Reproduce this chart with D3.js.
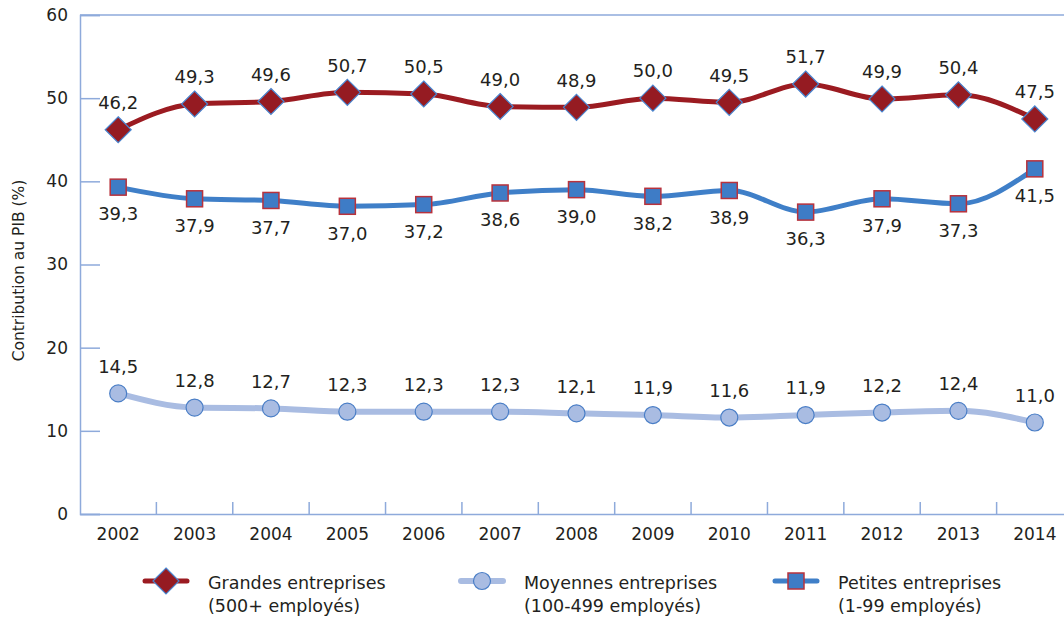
<!DOCTYPE html>
<html>
<head>
<meta charset="utf-8">
<script src="https://cdn.jsdelivr.net/npm/d3@7"></script>
<style>
  body { margin: 0; background: #fff; }
  text { font-family: "DejaVu Sans", sans-serif; fill: #231f20; }
</style>
</head>
<body>
<div id="chart"></div>
<script>
// contribution au PIB par taille d'entreprise, 2002-2014
let years = ["2002", "2003", "2004", "2005", "2006", "2007", "2008", "2009", "2010", "2011", "2012", "2013", "2014"];
let grandes = [46.2, 49.3, 49.6, 50.7, 50.5, 49.0, 48.9, 50.0, 49.5, 51.7, 49.9, 50.4, 47.5];
let moyennes = [14.5, 12.8, 12.7, 12.3, 12.3, 12.3, 12.1, 11.9, 11.6, 11.9, 12.2, 12.4, 11.0];
let petites = [39.3, 37.9, 37.7, 37.0, 37.2, 38.6, 39.0, 38.2, 38.9, 36.3, 37.9, 37.3, 41.5];
let yTicks = [0, 10, 20, 30, 40, 50, 60];

let width = 1064, height = 619;
let plotLeft = 80, plotRight = 1073, plotTop = 15, plotBottom = 514;
let axisColor = "#8eaadb";

let series = [
    { name: "Grandes entreprises", sub: "(500+ employés)", values: grandes, line: "#9b1b21", lw: 5,
      shape: "diamond", fill: "#951b22", stroke: "#4a86d0", labelDy: -27, lx: 145 },
    { name: "Moyennes entreprises", sub: "(100-499 employés)", values: moyennes, line: "#a9bce2", lw: 6,
      shape: "circle", fill: "#a9bce2", stroke: "#4a7ec6", labelDy: -27, lx: 461 },
    { name: "Petites entreprises", sub: "(1-99 employés)", values: petites, line: "#3f7fc8", lw: 5,
      shape: "square", fill: "#3e7cc6", stroke: "#b8323c", labelDy: 27, lx: 775 }
];

let svg = d3.select("#chart").append("svg")
    .attr("width", width)
    .attr("height", height);

let x = d3.scaleBand().domain(years).range([plotLeft, plotRight]);
let y = d3.scaleLinear().domain([0, 60]).range([plotBottom, plotTop]);
let cx = (d) => x(d) + x.bandwidth() / 2;

// top border
svg.append("line")
    .attr("x1", plotLeft).attr("x2", plotRight)
    .attr("y1", y(60)).attr("y2", y(60))
    .attr("stroke", axisColor).attr("stroke-width", 1.5);

// y axis, ticks pointing into the plot
let yAxis = svg.append("g")
    .attr("transform", `translate(${plotLeft},0)`)
    .call(d3.axisLeft(y).tickValues(yTicks).tickSize(-20).tickPadding(12).tickFormat(d3.format("d")));
yAxis.select(".domain").attr("stroke", axisColor).attr("stroke-width", 1.5);
yAxis.selectAll(".tick line").attr("stroke", axisColor).attr("stroke-width", 1.5);
yAxis.selectAll("text").style("font-size", "17px").attr("fill", "#231f20");

// x axis, ticks on band boundaries pointing up
let xAxis = svg.append("g")
    .attr("transform", `translate(0,${plotBottom})`)
    .call(d3.axisBottom(x).tickSize(0).tickPadding(14));
xAxis.select(".domain").attr("stroke", axisColor).attr("stroke-width", 1.5);
xAxis.selectAll("text").style("font-size", "17px").attr("fill", "#231f20");
svg.append("g").selectAll("line")
    .data(years.slice(1))
    .enter()
    .append("line")
    .attr("x1", (d) => x(d)).attr("x2", (d) => x(d))
    .attr("y1", plotBottom).attr("y2", plotBottom - 12)
    .attr("stroke", axisColor).attr("stroke-width", 1.5);

// axis title
svg.append("text")
    .attr("transform", `translate(24,${(plotTop + plotBottom) / 2 + 6}) rotate(-90)`)
    .attr("text-anchor", "middle")
    .style("font-size", "15.5px")
    .text("Contribution au PIB (%)");

function marker(g, s, px, py) {
    if (s.shape == "diamond") {
        g.append("path")
            .attr("d", `M${px},${py - 13}L${px + 13},${py}L${px},${py + 13}L${px - 13},${py}Z`)
            .attr("fill", s.fill).attr("stroke", s.stroke).attr("stroke-width", 1.2);
    } else if (s.shape == "circle") {
        g.append("circle")
            .attr("cx", px).attr("cy", py).attr("r", 8.5)
            .attr("fill", s.fill).attr("stroke", s.stroke).attr("stroke-width", 1.2);
    } else {
        g.append("rect")
            .attr("x", px - 8).attr("y", py - 8).attr("width", 16).attr("height", 16)
            .attr("fill", s.fill).attr("stroke", s.stroke).attr("stroke-width", 1.5);
    }
}

let line = d3.line()
    .x((d, i) => cx(years[i]))
    .y((d) => y(d))
    .curve(d3.curveMonotoneX);

let fmt = (v) => v.toFixed(1).replace(".", ",");

series.forEach((s) => {
    let g = svg.append("g");
    g.append("path")
        .datum(s.values)
        .attr("d", line)
        .attr("fill", "none")
        .attr("stroke", s.line)
        .attr("stroke-width", s.lw)
        .attr("stroke-linecap", "round");
    s.values.forEach((v, i) => marker(g, s, cx(years[i]), y(v)));
    g.selectAll("text.lbl")
        .data(s.values)
        .enter()
        .append("text")
        .attr("class", "lbl")
        .attr("x", (d, i) => cx(years[i]))
        .attr("y", (d) => y(d) + s.labelDy)
        .attr("dy", "0.35em")
        .attr("text-anchor", "middle")
        .style("font-size", "18px")
        .text((d) => fmt(d));

    // legend entry
    let lg = svg.append("g");
    lg.append("line")
        .attr("x1", s.lx).attr("x2", s.lx + 42)
        .attr("y1", 581).attr("y2", 581)
        .attr("stroke", s.line).attr("stroke-width", s.lw).attr("stroke-linecap", "round");
    marker(lg, s, s.lx + 21, 581);
    lg.append("text")
        .attr("x", s.lx + 63).attr("y", 583).attr("dy", "0.35em")
        .style("font-size", "17.5px").text(s.name);
    lg.append("text")
        .attr("x", s.lx + 63).attr("y", 606).attr("dy", "0.35em")
        .style("font-size", "17.5px").text(s.sub);
});
</script>
</body>
</html>
